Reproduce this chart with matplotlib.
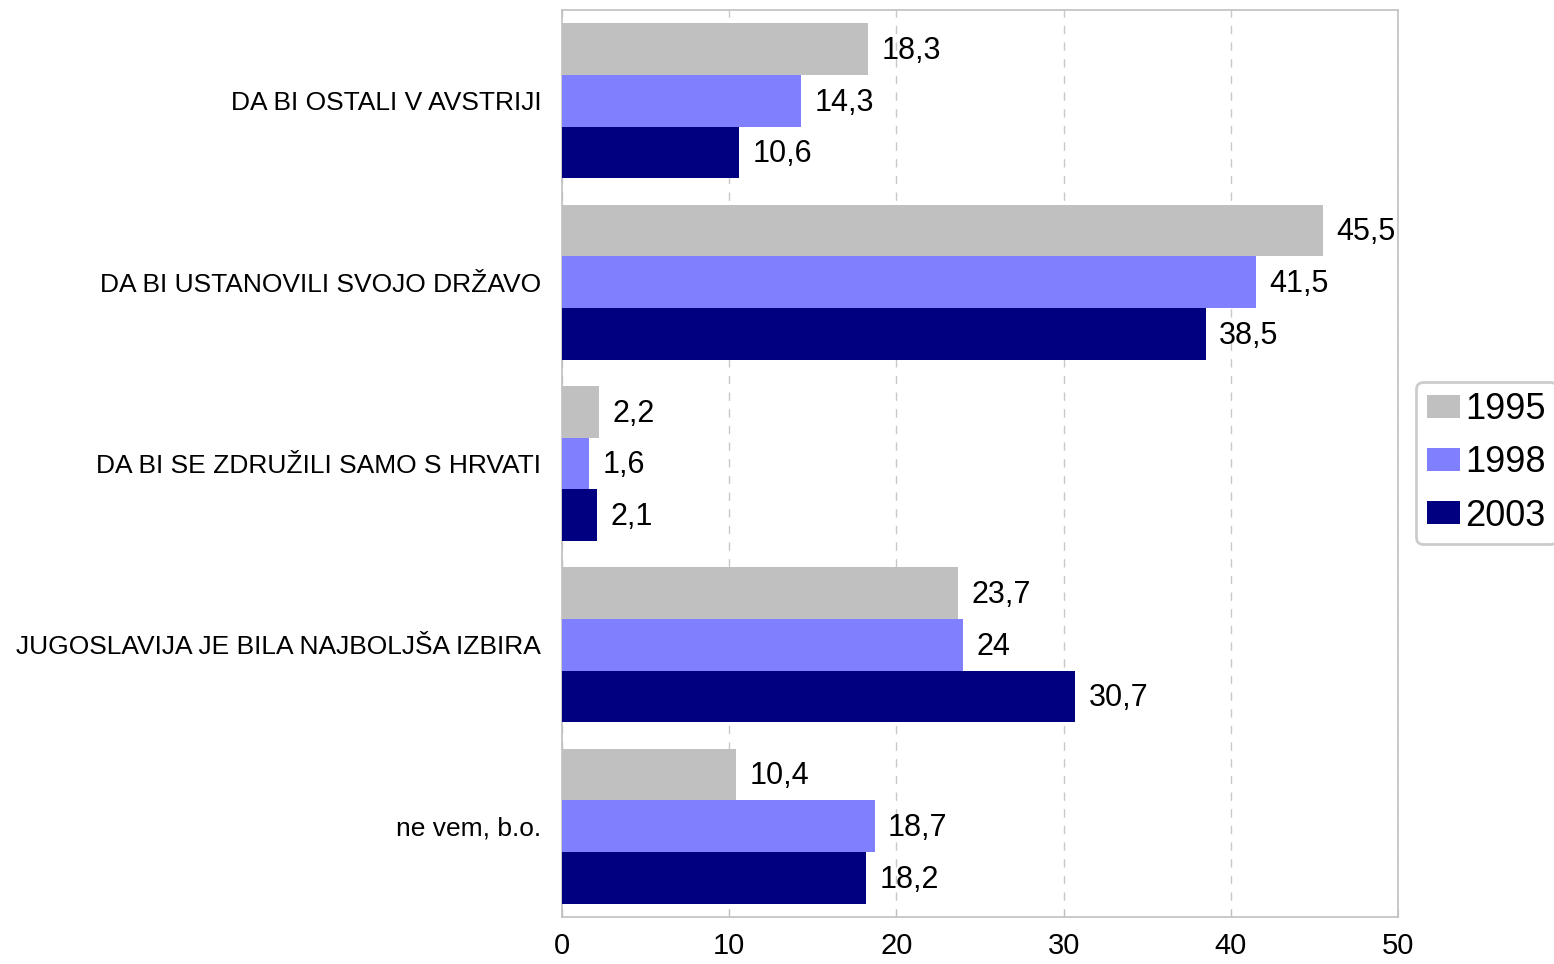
import numpy as np
import matplotlib.pyplot as plt

plt.rcParams['font.family'] = ['Liberation Sans', 'DejaVu Sans']

categories = ['DA BI OSTALI V AVSTRIJI', 'DA BI USTANOVILI SVOJO DRŽAVO',
              'DA BI SE ZDRUŽILI SAMO S HRVATI', 'JUGOSLAVIJA JE BILA NAJBOLJŠA IZBIRA',
              'ne vem, b.o.']
years = ['1995', '1998', '2003']
v1995 = [18.3, 45.5, 2.2, 23.7, 10.4]
v1998 = [14.3, 41.5, 1.6, 24, 18.7]
v2003 = [10.6, 38.5, 2.1, 30.7, 18.2]
colors = ['#C0C0C0', '#8080FF', '#000080']

fig = plt.figure(figsize=(15.54, 9.64), dpi=100)
ax = fig.add_axes([562 / 1554, 1 - 917 / 964, (1398 - 562) / 1554, 907 / 964])

y = np.arange(len(categories))
h = 0.285
for i, (vals, yr, c) in enumerate(zip([v1995, v1998, v2003], years, colors)):
    bars = ax.barh(y + (i - 1) * h, vals, height=h, color=c, label=yr, zorder=3)
    for b, v in zip(bars, vals):
        txt = ('%g' % v).replace('.', ',')
        ax.text(v + 0.8, b.get_y() + b.get_height() / 2 + 0.01, txt, va='center', ha='left',
                fontsize=22, zorder=4)

ax.set_xlim(0, 50)
ax.set_ylim(4.5, -0.5)
ax.set_xticks(range(0, 51, 10))
ax.set_yticks(y)
ax.set_yticklabels(categories, fontsize=19)
ax.tick_params(axis='y', length=0, pad=15)
ax.tick_params(axis='x', direction='in', length=6, color='#C0C0C0', labelsize=21, pad=11)
ax.grid(axis='x', color='#C8C8C8', linestyle=(0, (6, 6)), linewidth=1, zorder=0)
for s in ax.spines.values():
    s.set_color('#C0C0C0')
    s.set_linewidth(1.2)

leg = fig.legend(loc='center left', bbox_to_anchor=(1416 / 1554, 1 - 463 / 964),
                 fontsize=26, frameon=True, fancybox=True, edgecolor='#C0C0C0',
                 handlelength=0.92, handleheight=0.6, handletextpad=0.15,
                 labelspacing=0.5, borderpad=0.3, borderaxespad=0)
leg.get_frame().set_linewidth(2)

fig.savefig('out.png', dpi=100)
